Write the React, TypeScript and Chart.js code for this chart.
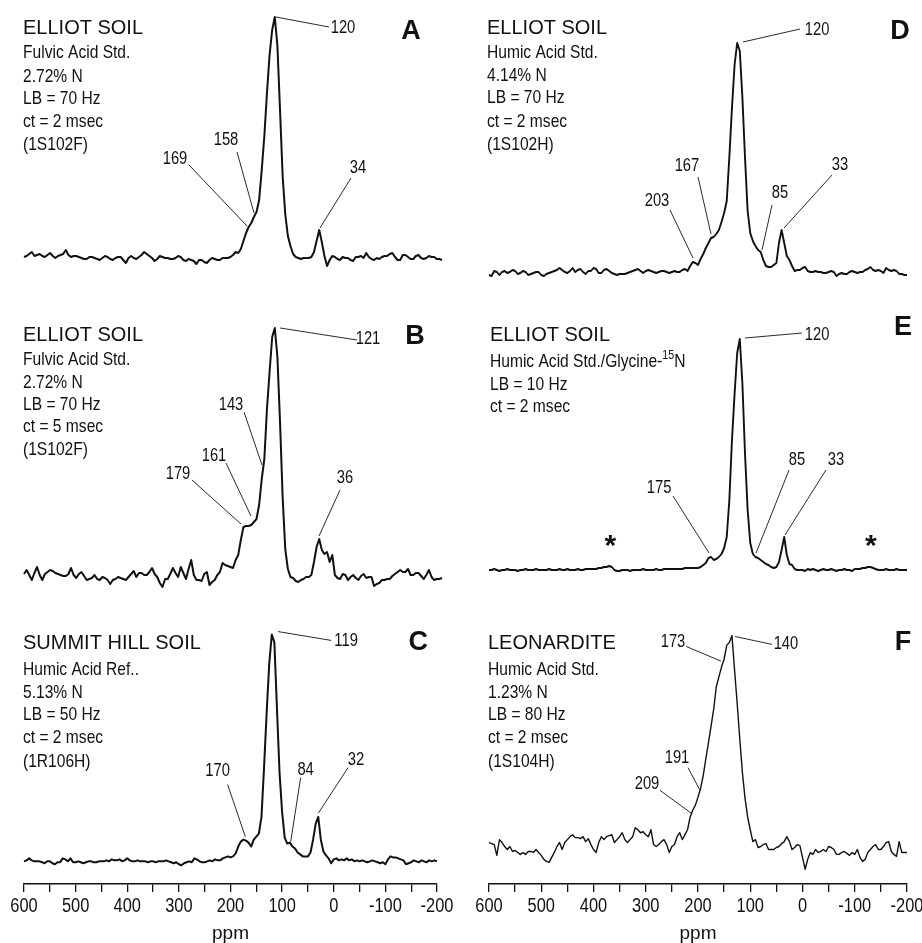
import React, { useEffect, useRef } from "react";
import { Chart, registerables } from "chart.js";

Chart.register(...registerables);

// Chemical shift grid (ppm), shared by all six spectra
const PPM = [
  600, 595, 590, 585, 580, 575, 570, 565, 560, 555,
  550, 545, 540, 535, 530, 525, 520, 515, 510, 505,
  500, 495, 490, 485, 480, 475, 470, 465, 460, 455,
  450, 445, 440, 435, 430, 425, 420, 415, 410, 405,
  400, 395, 390, 385, 380, 375, 370, 365, 360, 355,
  350, 345, 340, 335, 330, 325, 320, 315, 310, 305,
  300, 295, 290, 285, 280, 275, 270, 265, 260, 255,
  250, 245, 240, 235, 230, 225, 220, 215, 210, 205,
  200, 195, 190, 185, 180, 175, 170, 165, 160, 155,
  150, 145, 140, 135, 130, 125, 120, 115, 110, 105,
  100, 95, 90, 85, 80, 75, 70, 65, 60, 55,
  50, 45, 40, 35, 30, 25, 20, 15, 10, 5,
  0, -5, -10, -15, -20, -25, -30, -35, -40, -45,
  -50, -55, -60, -65, -70, -75, -80, -85, -90, -95,
  -100, -105, -110, -115, -120, -125, -130, -135, -140, -145,
  -150, -155, -160, -165, -170, -175, -180, -185, -190, -195,
  -200,
];

// Intensities (arbitrary units)
const SPEC_A = [
  1, 2, 4, 6, 2, 3, 4, 2, 1, 3,
  5, 2, 0, 2, 3, 4, 8, 3, 1, 2,
  2, 1, 0, -1, -1, 1, 1, 0, -1, -2,
  0, 2, 1, -1, -2, 0, 1, 1, -2, -5,
  0, 2, 0, -1, 1, 3, 6, 4, 2, 0,
  -3, -1, 2, 1, 0, 0, -1, -1, 0, 2,
  1, -2, -3, -1, -2, -3, -6, -2, -2, -4,
  -5, -2, 0, -1, -2, -2, 0, 0, 0, 1,
  3, 6, 5, 9, 17, 25, 31, 35, 41, 46,
  58, 88, 122, 165, 203, 228, 241, 212, 148, 82,
  44, 22, 12, 4, 1, 0, -1, 0, 0, 0,
  1, 6, 17, 28, 16, 2, -8, -2, 2, 1,
  -1, -2, 1, 0, 0, -2, -3, 1, 1, 2,
  0, 5, 1, -1, -2, 0, -1, 1, 2, 2,
  4, 5, 1, -2, -2, 3, 3, 1, -1, -1,
  2, 3, 0, -1, 0, 2, 1, 1, -1, -1,
  -2,
];

const SPEC_B = [
  3, 7, 2, -3, 4, 10, 2, -3, 3, 5,
  7, 6, 4, 3, 2, 1, 1, 3, 9, 2,
  -1, 3, 5, 1, -3, -2, -1, 2, -2, -3,
  0, -1, -3, -7, -3, -2, 0, -1, -2, -3,
  0, 3, 6, 0, 4, 4, 2, 2, 5, 9,
  3, 0, -6, -10, -2, -2, 3, 9, 4, 0,
  10, 4, -2, 8, 17, 2, -3, -3, -4, 3,
  5, -8, -5, -3, 2, 5, 14, 12, 11, 10,
  9, 17, 22, 37, 50, 51, 51, 52, 55, 58,
  72, 98, 118, 168, 205, 240, 249, 220, 155, 80,
  28, 8, 0, -1, -4, -5, -3, -2, 0, 0,
  2, 15, 30, 38, 27, 23, 25, 15, 22, 2,
  -1, -2, 3, 2, -3, 0, 2, -1, -3, 1,
  3, -1, 0, 0, -9, -7, -6, -3, -3, -2,
  -2, 1, 3, 5, 7, 5, 5, 8, 2, 2,
  4, 4, 1, -2, 2, 7, 0, -3, -2, -2,
  -1,
];

const SPEC_C = [
  0, 1, 3, 1, 0, 0, 0, -1, -2, 0,
  0, -2, -3, -1, -1, 3, 2, 0, 3, -1,
  -1, 0, -1, -2, -1, 0, 0, -1, -1, 0,
  0, 0, 1, 0, 2, 1, 1, 2, 0, 1,
  3, 1, 0, 0, 1, 0, 0, 0, -1, 0,
  0, -1, 0, 0, 0, 1, 0, -1, -2, -1,
  -3, -4, -2, -1, 0, -1, 3, 2, 0, -1,
  -1, 0, 1, 0, 2, 1, 1, 3, 4, 5,
  4, 5, 8, 15, 20, 22, 21, 19, 15, 22,
  25, 28, 45, 95, 150, 200, 230, 222, 155, 90,
  50, 24, 18, 19, 15, 13, 9, 7, 5, 5,
  5, 9, 22, 38, 45, 22, 10, 6, 3, -2,
  2, 3, 1, 2, 1, 3, 1, 2, 0, 1,
  0, 1, 0, -1, 0, 1, 0, -1, -2, -1,
  -3, 2, 5, 4, 4, 3, 2, 1, -3, -2,
  -1, 1, 0, -1, 1, 0, -1, 1, 0, 1,
  0,
];

const SPEC_D = [
  -2, -3, 2, 1, -2, 1, 2, 0, 1, 3,
  2, -1, 0, 2, 1, -2, -1, 0, 1, 1,
  -2, -3, -1, 0, 1, 2, 3, 5, 3, 1,
  0, 2, 5, 1, 3, 4, 1, -1, 2, 2,
  5, 4, 0, 0, 3, 4, 2, 0, -1, -2,
  -1, -1, -1, 0, 1, 2, 3, 4, 2, 0,
  2, 3, 2, 1, 0, 1, 2, 2, 1, 0,
  1, 2, 1, 1, 3, 4, 2, 7, 11, 10,
  8, 14, 19, 25, 30, 35, 36, 39, 43, 51,
  60, 72, 116, 165, 208, 230, 222, 175, 115, 62,
  40, 32, 27, 23, 21, 13, 7, 6, 6, 8,
  10, 30, 43, 30, 17, 13, 7, 2, 3, 3,
  5, 6, 2, 1, 1, 2, 1, 1, 0, 0,
  1, 2, 1, -3, -1, 0, -1, -1, 1, 2,
  1, 0, 1, 1, 3, 4, 6, 3, 2, 3,
  2, 0, 5, 3, 2, 3, 2, -1, -1, -2,
  -2,
];

const SPEC_E = [
  0, 0, 1, 0, -1, 0, 0, 1, 0, 0,
  0, -1, 0, 0, 1, 0, 0, 0, 1, 0,
  0, 0, 0, 1, 0, 0, 0, 1, 0, 0,
  1, 0, 0, 0, 1, 0, 0, 1, 1, 1,
  1, 1, 2, 2, 3, 3, 4, 3, 0, -1,
  -1, 0, 0, 0, -1, 0, 0, 0, 0, 1,
  0, 0, 0, 0, 1, 0, 0, 1, 1, 1,
  1, 1, 1, 1, 1, 2, 2, 2, 2, 2,
  2, 3, 5, 7, 12, 13, 10, 11, 13, 16,
  22, 33, 70, 130, 176, 217, 231, 186, 116, 60,
  27, 16, 13, 12, 10, 8, 6, 5, 3, 2,
  3, 8, 20, 33, 15, 6, 5, 1, 0, 0,
  0, -1, 1, 0, 1, 0, -1, 0, 1, 0,
  0, 1, 0, -1, 0, 0, 1, 0, 0, -1,
  1, 1, 1, 2, 2, 3, 3, 2, 1, 0,
  0, 0, 1, 0, 0, 0, 1, 0, 0, 0,
  0,
];

const SPEC_F = [
  7, 6, 5, -6, 10, 7, 3, 0, 3, -2,
  -1, -3, -5, -3, -5, -2, -2, -3, 0, -3,
  -6, -10, -12, -13, -8, -3, 3, 7, 0, 7,
  10, 13, 15, 12, 12, 11, 13, 8, 11, 5,
  0, -3, 7, 13, 10, 13, 14, 15, 7, 10,
  13, 17, 10, 7, 10, 13, 22, 20, 17, 18,
  15, 13, 20, 5, 3, 5, 8, 10, 5, -3,
  3, 5, 13, 17, 10, 15, 20, 33, 40, 45,
  53, 62, 75, 92, 108, 125, 142, 165, 175, 185,
  193, 207, 210, 217, 182, 148, 112, 78, 52, 33,
  20, 8, 10, 2, 3, 5, 6, 0, 0, 0,
  2, 3, 6, 8, 13, 8, 0, 2, 5, 4,
  -8, -20, -10, -3, -5, 0, -3, -2, 0, -2,
  3, 2, 0, -5, -5, -3, -2, -4, -6, -3,
  -5, 0, -8, -12, -10, -3, 0, 3, 5, 0,
  0, 3, 7, 8, -2, -5, -7, 8, -3, -3,
  -3,
];

// Sample descriptions
const INFO_A = ["ELLIOT SOIL", "Fulvic Acid Std.", "2.72% N", "LB = 70 Hz", "ct = 2 msec", "(1S102F)"];
const INFO_B = ["ELLIOT SOIL", "Fulvic Acid Std.", "2.72% N", "LB = 70 Hz", "ct = 5 msec", "(1S102F)"];
const INFO_C = ["SUMMIT HILL SOIL", "Humic Acid Ref..", "5.13% N", "LB = 50 Hz", "ct = 2 msec", "(1R106H)"];
const INFO_D = ["ELLIOT SOIL", "Humic Acid Std.", "4.14% N", "LB = 70 Hz", "ct = 2 msec", "(1S102H)"];
const INFO_E = ["ELLIOT SOIL", "Humic Acid Std./Glycine-^15^N", "LB = 10 Hz", "ct = 2 msec"];
const INFO_F = ["LEONARDITE", "Humic Acid Std.", "1.23% N", "LB = 80 Hz", "ct = 2 msec", "(1S104H)"];

// Peak labels (ppm text)
const PEAKS_A = ["120", "158", "169", "34"];
const PEAKS_B = ["121", "143", "161", "179", "36"];
const PEAKS_C = ["119", "170", "84", "32"];
const PEAKS_D = ["120", "167", "203", "85", "33"];
const PEAKS_E = ["120", "175", "85", "33"];
const PEAKS_F = ["173", "140", "191", "209"];

// Spinning sidebands (ppm) marked with * in panel E
const SIDEBANDS_E = [368, -131];

const REGULAR = '"Liberation Sans", Arial, sans-serif';
const INK = "#111";
const K = 0.82; // horizontal condensing (Arial Narrow look)

type Leader = { from: [number, number]; to: [number, number]; at: [number, number] };

type PanelCfg = {
  letter: string;
  values: number[];
  info: string[];
  peaks: string[];
  leaders: Leader[];
  letterAt: [number, number];
  infoAt: [number, number];
  infoStep: number[];
  left: number;
  top: number;
  w: number;
  h: number;
  padL: number;
  padR: number;
  yMin: number;
  yMax: number;
  axis: boolean;
  lineW: number;
  stars?: number[];
};

const L_W = 461;
const R_W = 470;

const PANELS: PanelCfg[] = [
  {
    letter: "A", values: SPEC_A, info: INFO_A, peaks: PEAKS_A,
    leaders: [
      { from: [117.8, 241], to: [16.3, 231], at: [-10.5, 230] },
      { from: [159.8, 45], to: [192.3, 106], at: [213.4, 118] },
      { from: [173.2, 32], to: [284.2, 93], at: [311, 99] },
      { from: [33.5, 30], to: [-25.8, 80], at: [-39.2, 90] },
    ],
    letterAt: [-140.7, 226], infoAt: [23, 28], infoStep: [0, 25, 49, 71, 94, 117],
    left: 0, top: 0, w: L_W, h: 290, padL: 24, padR: 19, yMin: -32, yMax: 258, axis: false, lineW: 2,
  },
  {
    letter: "B", values: SPEC_B, info: INFO_B, peaks: PEAKS_B,
    leaders: [
      { from: [110, 249], to: [-37.3, 237], at: [-58.4, 238] },
      { from: [144.5, 112], to: [178.9, 165], at: [203.8, 172] },
      { from: [165.6, 61], to: [213.4, 114], at: [236.4, 121] },
      { from: [184.7, 53], to: [278.5, 97], at: [305.3, 103] },
      { from: [35.4, 41], to: [-4.8, 87], at: [-14.4, 99] },
    ],
    letterAt: [-148.3, 240], infoAt: [23, 45], infoStep: [0, 25, 48, 70, 92, 115],
    left: 0, top: 290, w: L_W, h: 310, padL: 24, padR: 19, yMin: -23, yMax: 287, axis: false, lineW: 2,
  },
  {
    letter: "C", values: SPEC_C, info: INFO_C, peaks: PEAKS_C,
    leaders: [
      { from: [108.1, 233], to: [4.8, 224], at: [-23.9, 223] },
      { from: [171.3, 25], to: [205.7, 78], at: [224.9, 92] },
      { from: [83.3, 20], to: [64.1, 85], at: [54.5, 93] },
      { from: [29.7, 49], to: [-27.8, 95], at: [-43.1, 103] },
    ],
    letterAt: [-163.6, 222], infoAt: [23, 43], infoStep: [0, 27, 50, 72, 95, 119],
    left: 0, top: 600, w: L_W, h: 343, padL: 24, padR: 19, yMin: -23, yMax: 265, axis: true, lineW: 2,
  },
  {
    letter: "D", values: SPEC_D, info: INFO_D, peaks: PEAKS_D,
    leaders: [
      { from: [113.9, 231], to: [4.8, 244], at: [-27.8, 243] },
      { from: [175.1, 39], to: [200, 96], at: [221.1, 107] },
      { from: [209.6, 15], to: [253.6, 63], at: [278.5, 72] },
      { from: [77.5, 23], to: [58.4, 68], at: [43.1, 80] },
      { from: [35.4, 45], to: [-56.5, 98], at: [-71.8, 108] },
    ],
    letterAt: [-186.6, 241], infoAt: [26, 28], infoStep: [0, 25, 48, 70, 94, 117],
    left: 461, top: 0, w: R_W, h: 290, padL: 28, padR: 24, yMin: -17, yMax: 273, axis: false, lineW: 1.9,
  },
  {
    letter: "E", values: SPEC_E, info: INFO_E, peaks: PEAKS_E,
    leaders: [
      { from: [110, 232], to: [0.9, 237], at: [-27.8, 235] },
      { from: [178.9, 17], to: [247.8, 74], at: [274.6, 82] },
      { from: [88.9, 17], to: [25.8, 100], at: [10.5, 110] },
      { from: [33.5, 35], to: [-44.9, 100], at: [-64.1, 110] },
    ],
    letterAt: [-192.3, 242], infoAt: [29, 45], infoStep: [0, 27, 50, 72],
    left: 461, top: 290, w: R_W, h: 310, padL: 28, padR: 24, yMin: -30, yMax: 280, axis: false, lineW: 1.9,
    stars: SIDEBANDS_E,
  },
  {
    letter: "F", values: SPEC_F, info: INFO_F, peaks: PEAKS_F,
    leaders: [
      { from: [156, 191], to: [222.9, 206], at: [247.8, 210] },
      { from: [129.2, 216], to: [58.4, 208], at: [31.6, 208] },
      { from: [196.2, 60], to: [219.1, 83], at: [240.2, 93] },
      { from: [213.4, 37], to: [272.7, 60], at: [297.6, 66] },
    ],
    letterAt: [-192.3, 210], infoAt: [27, 43], infoStep: [0, 27, 50, 72, 95, 119],
    left: 461, top: 600, w: R_W, h: 343, padL: 28, padR: 24, yMin: -35, yMax: 253, axis: true, lineW: 1.4,
  },
];

// Draw text squeezed horizontally around its anchor
function fillCondensed(ctx: CanvasRenderingContext2D, text: string, x: number, y: number) {
  ctx.save();
  ctx.translate(x, y);
  ctx.scale(K, 1);
  ctx.fillText(text, 0, 0);
  ctx.restore();
}

function drawSegments(ctx: CanvasRenderingContext2D, line: string, x: number, y: number) {
  const parts = line.split("^");
  let cx = x;
  parts.forEach((seg, i) => {
    if (!seg) return;
    if (i % 2 === 1) {
      ctx.font = `13px ${REGULAR}`;
      fillCondensed(ctx, seg, cx, y - 7);
    } else {
      ctx.font = `19px ${REGULAR}`;
      fillCondensed(ctx, seg, cx, y);
    }
    cx += ctx.measureText(seg).width * K;
  });
}

// Make Chart.js draw its own x tick labels in a condensed face
const condenseTicks = {
  id: "condenseTicks",
  beforeDraw(chart: any) {
    const s: any = chart.scales.x;
    if (!s || s.__condensed) return;
    s.__condensed = true;
    const origDraw = s.drawLabels;
    const origGet = s.getLabelItems;
    const origArea = s._computeLabelArea;
    s.drawLabels = function (area: any) {
      const ctx = this.ctx;
      this.getLabelItems = function (a: any) {
        return origGet.call(this, a).map((it: any) => ({
          ...it,
          options: {
            ...it.options,
            translation: [it.options.translation[0] / K, it.options.translation[1]],
          },
        }));
      };
      this._computeLabelArea = function () {
        const r = origArea ? origArea.call(this) : undefined;
        if (!r) return r;
        return { ...r, left: r.left / K, right: r.right / K };
      };
      ctx.save();
      ctx.scale(K, 1);
      origDraw.call(this, area);
      ctx.restore();
      this.getLabelItems = origGet;
      this._computeLabelArea = origArea;
    };
  },
};

function makeOverlay(p: PanelCfg) {
  return {
    id: "overlay" + p.letter,
    afterDatasetsDraw(chart: any) {
      const ctx: CanvasRenderingContext2D = chart.ctx;
      const xs = chart.scales.x;
      const ys = chart.scales.y;
      const X = (v: number) => xs.getPixelForValue(v);
      const Y = (v: number) => ys.getPixelForValue(v);
      ctx.save();
      // leader lines and peak labels
      ctx.strokeStyle = "#2a2a2a";
      ctx.lineWidth = 1;
      ctx.fillStyle = INK;
      ctx.textAlign = "center";
      ctx.textBaseline = "middle";
      ctx.font = `18px ${REGULAR}`;
      p.leaders.forEach((l, i) => {
        ctx.beginPath();
        ctx.moveTo(X(l.from[0]), Y(l.from[1]));
        ctx.lineTo(X(l.to[0]), Y(l.to[1]));
        ctx.stroke();
        fillCondensed(ctx, p.peaks[i], X(l.at[0]), Y(l.at[1]));
      });
      // spinning sidebands
      if (p.stars) {
        ctx.font = `bold 30px ${REGULAR}`;
        ctx.textBaseline = "alphabetic";
        p.stars.forEach((s) => ctx.fillText("*", X(s), Y(32) + 17));
      }
      // panel letter
      ctx.font = `bold 27px ${REGULAR}`;
      ctx.textBaseline = "middle";
      ctx.fillText(p.letter, X(p.letterAt[0]), Y(p.letterAt[1]));
      // sample description block
      ctx.textAlign = "left";
      p.info.forEach((line, i) => {
        const y = p.infoAt[1] + p.infoStep[i];
        if (i === 0) {
          ctx.font = `20px ${REGULAR}`;
          ctx.fillText(line, p.infoAt[0], y);
        } else {
          drawSegments(ctx, line, p.infoAt[0], y);
        }
      });
      ctx.restore();
    },
  };
}

function Panel({ p }: { p: PanelCfg }) {
  const ref = useRef<HTMLCanvasElement>(null);
  useEffect(() => {
    if (!ref.current) return;
    const chart = new Chart(ref.current, {
      type: "line",
      data: {
        datasets: [
          {
            data: PPM.map((x, i) => ({ x, y: p.values[i] })),
            borderColor: INK,
            borderWidth: p.lineW,
            borderJoinStyle: "round",
            pointRadius: 0,
            tension: 0,
            fill: false,
            clip: false as any,
          },
        ],
      },
      options: {
        responsive: false,
        animation: false,
        events: [],
        layout: { padding: { left: p.padL, right: p.padR, top: 0, bottom: 0 } },
        plugins: {
          legend: { display: false },
          tooltip: { enabled: false },
        },
        scales: {
          x: {
            type: "linear",
            reverse: true,
            min: -200,
            max: 600,
            display: p.axis,
            ticks: {
              stepSize: 50,
              autoSkip: false,
              maxRotation: 0,
              padding: 4,
              color: INK,
              font: { family: REGULAR, size: 20, lineHeight: 1 },
              callback: (v: any) => (Number(v) % 100 === 0 ? String(v) : ""),
            },
            grid: {
              display: true,
              drawOnChartArea: false,
              drawTicks: true,
              tickLength: 8,
              color: INK,
              lineWidth: 1.3,
            },
            border: { display: true, color: INK, width: 1.6 },
            title: {
              display: true,
              text: "ppm",
              color: INK,
              font: { family: REGULAR, size: 19, lineHeight: 1 },
              padding: { top: 4, bottom: 0 },
            },
          },
          y: { display: false, min: p.yMin, max: p.yMax },
        },
      },
      plugins: [condenseTicks, makeOverlay(p)],
    } as any);
    return () => chart.destroy();
  }, [p]);
  return (
    <canvas
      ref={ref}
      width={p.w}
      height={p.h}
      style={{ position: "absolute", left: p.left, top: p.top, width: p.w, height: p.h }}
    />
  );
}

export default function App() {
  return (
    <div
      style={{
        position: "absolute",
        left: 0,
        top: 0,
        width: 922,
        height: 943,
        overflow: "hidden",
        background: "#fff",
      }}
    >
      {PANELS.map((p) => (
        <Panel key={p.letter} p={p} />
      ))}
    </div>
  );
}
